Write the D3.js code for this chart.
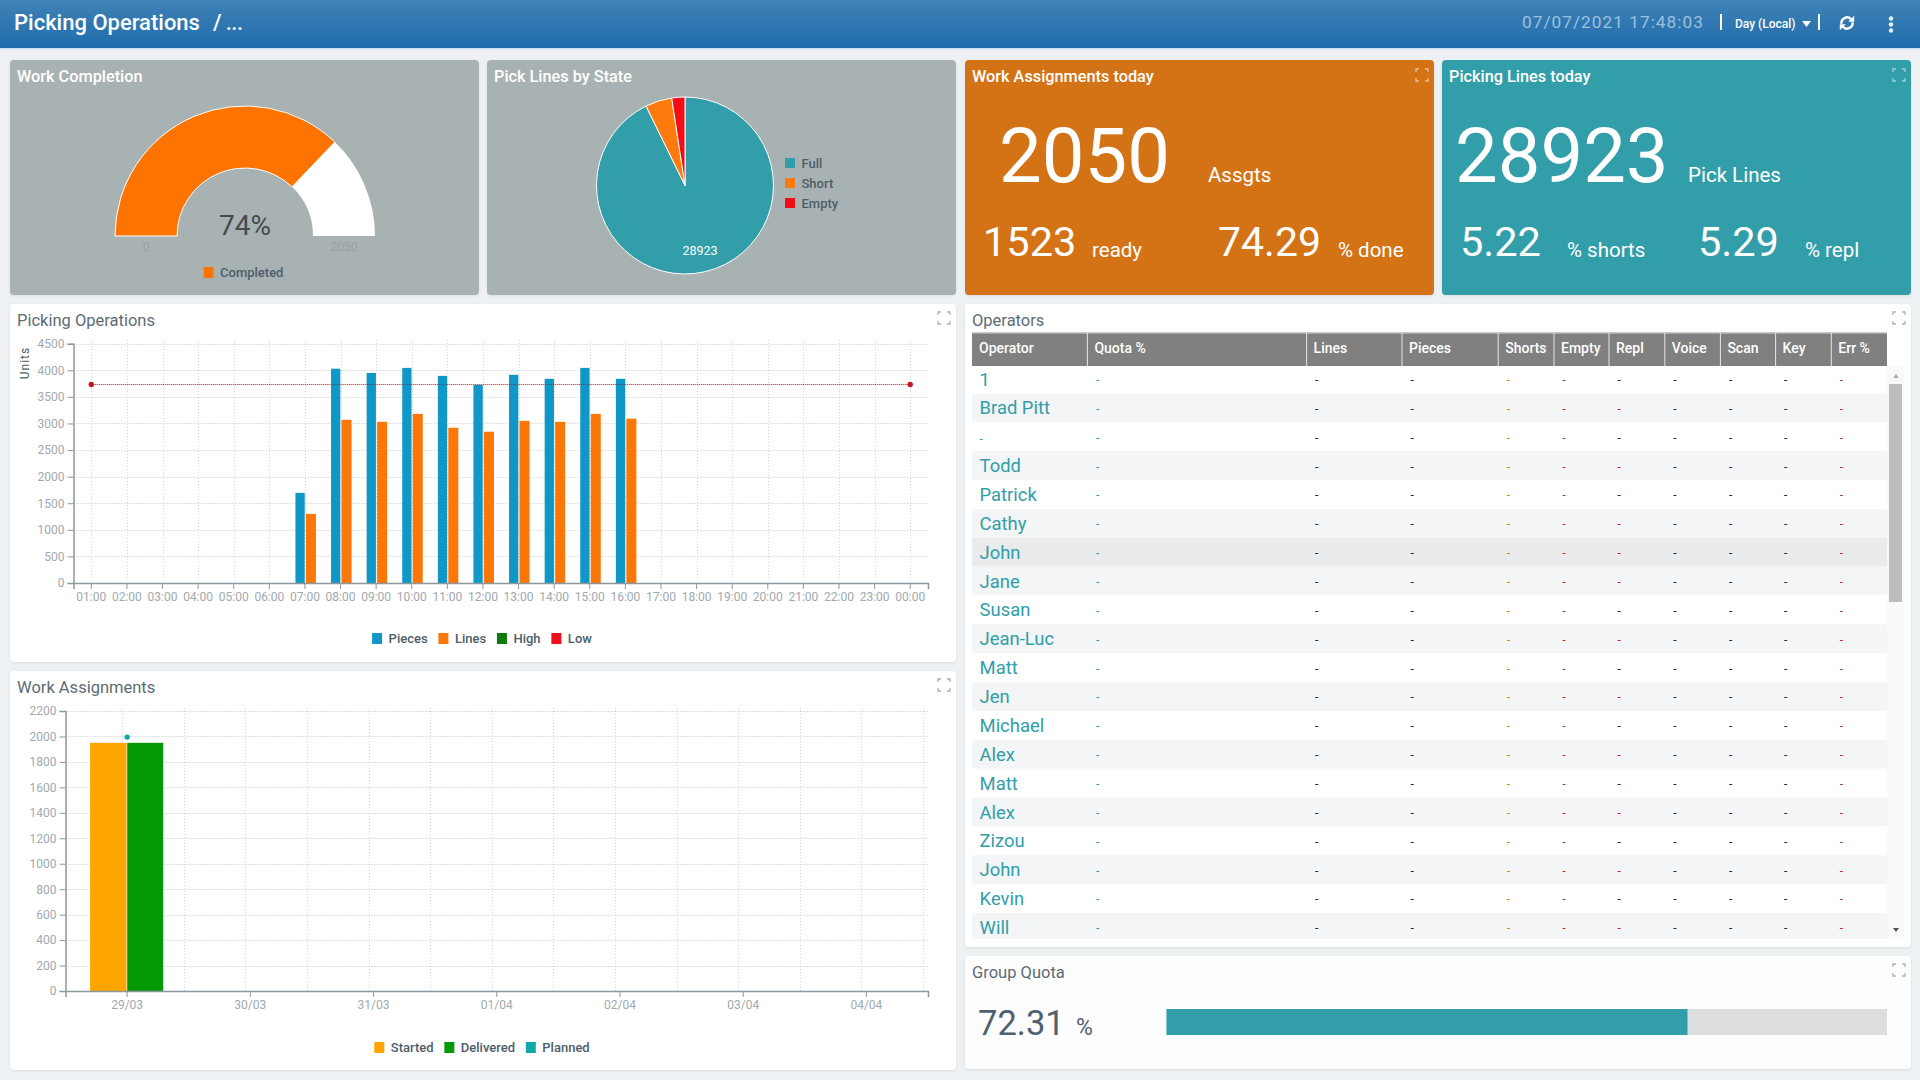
<!DOCTYPE html>
<html>
<head>
<meta charset="utf-8">
<script src="https://cdn.jsdelivr.net/npm/d3@7/dist/d3.min.js"></script>
<style>
html,body{margin:0;padding:0;background:#eef1f4;overflow:hidden}
svg{display:block;font-family:Roboto,sans-serif}
.grid line{stroke:#bcc1c5;stroke-dasharray:1 2;stroke-width:1}
.vgrid line{stroke:#d4d8da;stroke-dasharray:1 2;stroke-width:1}
.axis .domain{stroke:#8d989e;stroke-width:1.5;fill:none}
.axis .tick line{stroke:#8d989e}
.axis text{fill:#a0a9ae;font-size:12px;font-family:Roboto,sans-serif}
</style>
</head>
<body>
<svg id="dash" width="1920" height="1080"></svg>
<script>
// ---- data ----
const hours = ['01:00','02:00','03:00','04:00','05:00','06:00','07:00','08:00','09:00','10:00','11:00','12:00','13:00','14:00','15:00','16:00','17:00','18:00','19:00','20:00','21:00','22:00','23:00','00:00'];
const piecesValues = [0,0,0,0,0,0,1695,4030,3950,4045,3895,3725,3915,3840,4045,3840,0,0,0,0,0,0,0,0];
const linesValues  = [0,0,0,0,0,0,1300,3070,3030,3180,2920,2845,3050,3030,3180,3090,0,0,0,0,0,0,0,0];
const lowLineHours = ['01:00','00:00'];
const lowLineValues = [3750,3750];
const opsTicks = [0,500,1000,1500,2000,2500,3000,3500,4000,4500];
const opsLegend = ['Pieces','Lines','High','Low'];

const days = ['29/03','30/03','31/03','01/04','02/04','03/04','04/04'];
const startedValues = [1950,0,0,0,0,0,0];
const deliveredValues = [1950,0,0,0,0,0,0];
const plannedValues = [1995,null,null,null,null,null,null];
const assignTicks = [0,200,400,600,800,1000,1200,1400,1600,1800,2000,2200];
const assignLegend = ['Started','Delivered','Planned'];

const gaugeDone = 1523;
const gaugeMax = 2050;
const gaugeLegend = ['Completed'];

const pieLabels = ['Full','Short','Empty'];
const pieValues = [28923,1510,750];

const operators = ['1','Brad Pitt','-','Todd','Patrick','Cathy','John','Jane','Susan','Jean-Luc','Matt','Jen','Michael','Alex','Matt','Alex','Zizou','John','Kevin','Will'];
const tableColumns = ['Operator','Quota %','Lines','Pieces','Shorts','Empty','Repl','Voice','Scan','Key','Err %'];
const replWarn = [0,1,0,1,0,1,1,1,0,1,0,1,0,1,0,1,0,1,0,1];
const groupQuota = 72.31;

// ---- layout & style ----
const PIECES='#0f97c8', LINES='#fc7608', HIGH='#0a7d0a', LOW='#ee0f1a';
const STARTED='#ffa500', DELIVERED='#059a05', PLANNED='#10a8a8';
const TEAL='#319ea9', ORANGE_CARD='#d47315', GREY_CARD='#a9b2b2';
const TITLE='#5c6b75', LEG='#4d5e69';
const svg = d3.select('#dash');
const defs = svg.append('defs');
const hg = defs.append('linearGradient').attr('id','hdr').attr('x1',0).attr('x2',0).attr('y1',0).attr('y2',1);
hg.append('stop').attr('offset',0).attr('stop-color','#3f82b6');
hg.append('stop').attr('offset',1).attr('stop-color','#1f6cac');
defs.append('clipPath').attr('id','tblClip').append('rect').attr('x',972).attr('y',366).attr('width',932).attr('height',573);
const crisp=v=>Math.round(v)+0.5;

function txt(g,x,y,s,o={}){
  return g.append('text').attr('x',x).attr('y',y).text(s)
    .attr('font-size',o.size||14).attr('font-weight',o.weight||400)
    .attr('fill',o.fill||'#fff').attr('text-anchor',o.anchor||'start')
    .style('letter-spacing',o.ls||null);
}
function card(x,y,w,h,fill){
  svg.append('rect').attr('x',x).attr('y',y).attr('width',w).attr('height',h).attr('rx',4)
    .attr('fill',fill).style('filter','drop-shadow(0 1px 1px rgba(0,0,0,.08))');
}
function expandIcon(cx,cy,col){
  const s=6,l=3;
  const d=[[-1,-1],[1,-1],[1,1],[-1,1]].map(([a,b])=>
    `M${cx+a*s},${cy+b*(s-l)}V${cy+b*s}H${cx+a*(s-l)}`).join('');
  svg.append('path').attr('d',d).attr('fill','none').attr('stroke',col).attr('stroke-width',1.3);
}
function legendRow(cx,y,names,colors){
  const g=svg.append('g');
  let x=0;
  names.forEach((n,i)=>{
    g.append('rect').attr('x',x).attr('y',y-10).attr('width',10).attr('height',11).attr('fill',colors[i]);
    const t=txt(g,x+16.5,y,n,{size:13,weight:500,fill:LEG});
    x+=16.5+t.node().getComputedTextLength()+10.8;
  });
  x-=10.8;
  g.attr('transform',`translate(${cx-x/2},0)`);
}

// ---- header ----
svg.append('rect').attr('width',1920).attr('height',49).attr('fill','url(#hdr)');
svg.append('rect').attr('y',48).attr('width',1920).attr('height',1.5).attr('fill','#cfe0ee');
txt(svg,14,30,'Picking Operations',{size:22,weight:500});
txt(svg,213,30,'/ ...',{size:22,weight:500,ls:'-0.6px'});
txt(svg,1522,28,'07/07/2021 17:48:03',{size:17.3,fill:'#9cc0dc',ls:'1px'});
svg.append('rect').attr('x',1720).attr('y',14).attr('width',2).attr('height',16).attr('fill','#fff');
txt(svg,1735,28,'Day (Local)',{size:12,weight:500});
svg.append('path').attr('d','M1802,21h9l-4.5,6z').attr('fill','#fff');
svg.append('rect').attr('x',1818).attr('y',14).attr('width',2).attr('height',16).attr('fill','#fff');
const refresh=d3.arc().innerRadius(4.3).outerRadius(6.8);
const rg=svg.append('g').attr('transform','translate(1847,23)').attr('fill','#fff');
rg.append('path').attr('d',refresh({startAngle:-1.7,endAngle:0.8}));
rg.append('path').attr('d',refresh({startAngle:1.44,endAngle:3.94}));
rg.append('path').attr('d','M7.2,-7.2v6h-6z M-7.2,7.2v-6h6z');
[18.5,24.5,30.5].forEach(y=>svg.append('circle').attr('cx',1891).attr('cy',y).attr('r',2.2).attr('fill','#e4eff6'));

// ---- top cards ----
card(10,60,469,235,GREY_CARD);
card(487,60,469,235,GREY_CARD);
card(965,60,469,235,ORANGE_CARD);
card(1442,60,469,235,TEAL);
txt(svg,17,82,'Work Completion',{size:16.3,weight:500});
txt(svg,494,82,'Pick Lines by State',{size:16.3,weight:500});
txt(svg,972,82,'Work Assignments today',{size:16.3,weight:500});
txt(svg,1449,82,'Picking Lines today',{size:16.3,weight:500});
expandIcon(1422,75,'rgba(255,255,255,.55)');
expandIcon(1899,75,'rgba(255,255,255,.55)');

// gauge
const gaugeAngle=d3.scaleLinear().domain([0,gaugeMax]).range([-Math.PI/2,Math.PI/2]);
const gaugeArc=d3.arc().innerRadius(68).outerRadius(130);
const gg=svg.append('g').attr('transform','translate(245,236)');
gg.append('path').attr('d',gaugeArc({startAngle:gaugeAngle(gaugeDone),endAngle:gaugeAngle(gaugeMax)})).attr('fill','#fff');
gg.append('path').attr('d',gaugeArc({startAngle:gaugeAngle(0),endAngle:gaugeAngle(gaugeDone)})).attr('fill','#ff7300').attr('stroke','#fff').attr('stroke-width',1);
txt(gg,0,-1,Math.floor(gaugeDone/gaugeMax*100)+'%',{size:28,fill:'#464b50',anchor:'middle'});
txt(gg,-99,15,'0',{size:12,fill:'#98a2a5',anchor:'middle'});
txt(gg,99,15,String(gaugeMax),{size:12,fill:'#98a2a5',anchor:'middle'});
legendRow(243.5,277,gaugeLegend,['#ff7300']);

// pie
const pieColors=[TEAL,'#ff7a0c','#f20d17'];
const pieGen=d3.pie().sort(null);
const pieArc=d3.arc().innerRadius(0).outerRadius(88.5);
const pg=svg.append('g').attr('transform','translate(685,185.5)');
pg.selectAll('path').data(pieGen(pieValues)).join('path')
  .attr('d',pieArc).attr('fill',(d,i)=>pieColors[i]).attr('stroke','#fff').attr('stroke-width',1);
txt(pg,15,69,String(pieValues[0]),{size:12.5,anchor:'middle'});
pieLabels.forEach((n,i)=>{
  const y=163+i*20;
  svg.append('rect').attr('x',785).attr('y',y-5).attr('width',10).attr('height',10).attr('fill',pieColors[i]);
  txt(svg,801.5,y+4.5,n,{size:13,weight:500,fill:LEG});
});

// KPI cards
txt(svg,999,182,'2050',{size:76});
txt(svg,1208,182,'Assgts',{size:20.5});
txt(svg,983,256,'1523',{size:41.5});
txt(svg,1092,257,'ready',{size:20.5});
txt(svg,1218,256,'74.29',{size:41});
txt(svg,1338,257,'% done',{size:20.5});
txt(svg,1455,182,'28923',{size:76});
txt(svg,1688,182,'Pick Lines',{size:20.5});
txt(svg,1460,256,'5.22',{size:41.5});
txt(svg,1567,257,'% shorts',{size:20.5});
txt(svg,1698,256,'5.29',{size:41.5});
txt(svg,1805,257,'% repl',{size:20.5});

// ---- Picking Operations chart ----
card(10,304,946,358,'#fff');
txt(svg,17,326,'Picking Operations',{size:16.5,fill:TITLE});
expandIcon(944,318,'#a9b2b8');
const ox=d3.scaleBand().domain(hours).range([73.5,928]);
const oxc=h=>ox(h)+ox.bandwidth()/2;
const oy=d3.scaleLinear().domain([0,4500]).range([583,343.7]);
const og=svg.append('g');
og.append('g').attr('class','vgrid').selectAll('line').data(hours).join('line')
  .attr('x1',h=>crisp(oxc(h))).attr('x2',h=>crisp(oxc(h))).attr('y1',340).attr('y2',583);
og.append('g').attr('class','grid').selectAll('line').data(opsTicks.slice(1)).join('line')
  .attr('x1',73.5).attr('x2',928).attr('y1',d=>crisp(oy(d))).attr('y2',d=>crisp(oy(d)));
og.selectAll('rect.p').data(piecesValues).join('rect').attr('class','p')
  .attr('x',(d,i)=>oxc(hours[i])-9.5).attr('width',9.3).attr('y',d=>oy(d)).attr('height',d=>oy(0)-oy(d)).attr('fill',PIECES);
og.selectAll('rect.l').data(linesValues).join('rect').attr('class','l')
  .attr('x',(d,i)=>oxc(hours[i])+1).attr('width',10).attr('y',d=>oy(d)).attr('height',d=>oy(0)-oy(d)).attr('fill',LINES);
const lowLine=d3.line().x((d,i)=>oxc(lowLineHours[i])).y(d=>crisp(oy(d)));
og.append('path').attr('d',lowLine(lowLineValues)).attr('fill','none').attr('stroke','#a8222a').attr('stroke-width',1).attr('stroke-dasharray','1 1');
og.selectAll('circle').data(lowLineValues).join('circle')
  .attr('cx',(d,i)=>oxc(lowLineHours[i])).attr('cy',d=>crisp(oy(d))).attr('r',2.7).attr('fill','#c8141c');
og.append('g').attr('class','axis').attr('transform','translate(0,583)')
  .call(d3.axisBottom(ox).tickSize(6).tickPadding(3));
og.append('g').attr('class','axis').attr('transform','translate(73.5,0)')
  .call(d3.axisLeft(oy).tickValues(opsTicks).tickSize(6).tickPadding(3).tickFormat(d3.format('d')))
  .call(g=>g.select('.domain').style('stroke-width',1.5));
txt(svg,0,0,'Units',{size:12,fill:LEG,anchor:'middle',ls:'1px'}).attr('transform','translate(29,363) rotate(-90)');
legendRow(482,643,opsLegend,[PIECES,LINES,HIGH,LOW]);

// ---- Work Assignments chart ----
card(10,671,946,399,'#fff');
txt(svg,17,693,'Work Assignments',{size:16.5,fill:TITLE});
expandIcon(944,685,'#a9b2b8');
const ax=d3.scaleBand().domain(days).range([65.5,928]);
const axc=d=>ax(d)+ax.bandwidth()/2;
const agrid=d3.scaleLinear().domain([-0.5,6.5]).range([65.5,928]);
const ay=d3.scaleLinear().domain([0,2200]).range([991,711]);
const ag=svg.append('g');
ag.append('g').attr('class','vgrid').selectAll('line').data(d3.range(-0.04,6.5,0.5)).join('line')
  .attr('x1',d=>crisp(agrid(d))).attr('x2',d=>crisp(agrid(d))).attr('y1',708).attr('y2',991);
ag.append('g').attr('class','grid').selectAll('line').data(assignTicks.slice(1)).join('line')
  .attr('x1',65.5).attr('x2',928).attr('y1',d=>crisp(ay(d))).attr('y2',d=>crisp(ay(d)));
ag.selectAll('rect.s').data(startedValues).join('rect').attr('class','s')
  .attr('x',(d,i)=>axc(days[i])-37).attr('width',36.4).attr('y',d=>ay(d)).attr('height',d=>ay(0)-ay(d)).attr('fill',STARTED);
ag.selectAll('rect.d').data(deliveredValues).join('rect').attr('class','d')
  .attr('x',(d,i)=>axc(days[i])+0.1).attr('width',36).attr('y',d=>ay(d)).attr('height',d=>ay(0)-ay(d)).attr('fill',DELIVERED);
ag.selectAll('circle').data(plannedValues.map((v,i)=>({v,d:days[i]})).filter(p=>p.v!=null)).join('circle')
  .attr('cx',p=>axc(p.d)).attr('cy',p=>ay(p.v)).attr('r',2.7).attr('fill',PLANNED);
ag.append('g').attr('class','axis').attr('transform','translate(0,991)')
  .call(d3.axisBottom(ax).tickSize(6).tickPadding(3));
ag.append('g').attr('class','axis').attr('transform','translate(65.5,0)')
  .call(d3.axisLeft(ay).tickValues(assignTicks).tickSize(6).tickPadding(3).tickFormat(d3.format('d')))
  .call(g=>g.select('.domain').style('stroke-width',1.5));
legendRow(482,1052,assignLegend,[STARTED,DELIVERED,PLANNED]);

// ---- Operators table ----
card(965,304,946,643,'#fff');
txt(svg,972,326,'Operators',{size:16.5,fill:TITLE});
expandIcon(1899,318,'#a9b2b8');
const colEdges=[972,1087.4,1306.6,1402,1498.2,1554,1609,1664.8,1720.4,1775.6,1831.3,1887];
const rowH=28.86, rowTop=364.6;
const rowY=d3.scaleLinear().domain([0,1]).range([rowTop,rowTop+rowH]);
svg.append('rect').attr('x',972).attr('y',333).attr('width',915).attr('height',33).attr('fill','#808080');
svg.append('rect').attr('x',972).attr('y',332).attr('width',915).attr('height',1.5).attr('fill','#c9cccf');
tableColumns.forEach((c,i)=>{
  if(i>0) svg.append('rect').attr('x',colEdges[i]-0.5).attr('y',333).attr('width',1).attr('height',33).attr('fill','#e6e6e6');
  txt(svg,colEdges[i]+7,353,c,{size:14,weight:500,fill:'#fff'});
});
const body=svg.append('g').attr('clip-path','url(#tblClip)');
const dashColor=(r,c)=>{
  if(c===1) return TEAL;
  if(c===4) return '#d8821a';
  if(c===5||c===10) return replWarn[r]?'#d8202a':'#9a3a50';
  if(c===6) return replWarn[r]?'#c81f2c':'#222';
  return '#222';
};
const rows=body.selectAll('g').data(operators).join('g');
rows.append('rect').attr('x',972).attr('width',915).attr('y',(d,i)=>rowY(i)).attr('height',rowH)
  .attr('fill',(d,i)=>i===6?'#e9ebec':(i%2?'#f3f5f6':'#fff'));
rows.append('text').attr('x',979.6).attr('y',(d,i)=>rowY(i)+21).text(d=>d)
  .attr('font-size',d=>d==='-'?12:18.4).attr('fill',TEAL);
rows.each(function(d,r){
  const g=d3.select(this);
  tableColumns.slice(1).forEach((c,i)=>{
    txt(g,colEdges[i+1]+8.5,rowY(r)+19.4,'-',{size:12,fill:dashColor(r,i+1)});
  });
});
// scrollbar
svg.append('rect').attr('x',1887).attr('y',366).attr('width',17).attr('height',573).attr('fill','#f8f9f9');
svg.append('rect').attr('x',1889).attr('y',384).attr('width',13).attr('height',218).attr('fill','#bdbdbd');
svg.append('path').attr('d','M1893,378l3,-4l3,4z').attr('fill','#b0b0b0');
svg.append('path').attr('d','M1893,928l3,4l3,-4z').attr('fill','#505050');

// ---- Group quota ----
card(965,956,946,113,'#fdfdfd');
txt(svg,972,978,'Group Quota',{size:16.5,fill:TITLE});
expandIcon(1899,970,'#a9b2b8');
txt(svg,978,1035,groupQuota.toFixed(2),{size:34.5,fill:'#4f6070'});
txt(svg,1076,1035,'%',{size:23,fill:'#4f6070'});
const qx=d3.scaleLinear().domain([0,100]).range([1166.5,1887]);
svg.append('rect').attr('x',qx(0)).attr('y',1009).attr('width',qx(100)-qx(0)).attr('height',26).attr('fill','#dcddde');
svg.append('rect').attr('x',qx(0)).attr('y',1009).attr('width',qx(groupQuota)-qx(0)).attr('height',26).attr('fill',TEAL);
</script>
</body>
</html>
